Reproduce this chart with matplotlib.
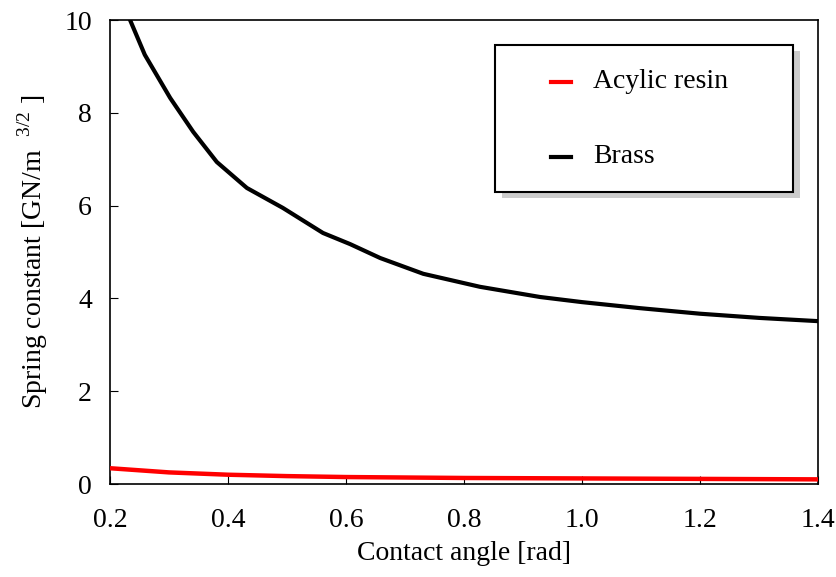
import matplotlib
matplotlib.use("Agg")
import matplotlib.pyplot as plt
from matplotlib.patches import Rectangle

plt.rcParams["font.family"] = ["Liberation Serif", "DejaVu Serif"]
plt.rcParams["mathtext.fontset"] = "custom"
plt.rcParams["mathtext.rm"] = "Liberation Serif"

# Brass curve
brass_x = [0.234, 0.259, 0.302, 0.341, 0.381, 0.432, 0.493, 0.561, 0.607, 0.658, 0.731, 0.827,
           0.929, 1.0, 1.098, 1.2, 1.3, 1.4]
brass_y = [10.0, 9.25, 8.32, 7.59, 6.94, 6.38, 5.95, 5.41, 5.17, 4.87, 4.53, 4.25,
           4.03, 3.92, 3.79, 3.67, 3.58, 3.51]
# Acrylic resin curve
resin_x = [0.2, 0.3, 0.4, 0.5, 0.6, 0.8, 1.0, 1.2, 1.4]
resin_y = [0.34, 0.25, 0.2, 0.17, 0.15, 0.13, 0.12, 0.11, 0.1]

xticks = [0.2, 0.4, 0.6, 0.8, 1.0, 1.2, 1.4]
yticks = [0, 2, 4, 6, 8, 10]

fig = plt.figure(figsize=(8.37, 5.77), dpi=100)
ax = fig.add_axes([110 / 837, 1 - 484 / 577, 708 / 837, 464 / 577])

ax.plot(resin_x, resin_y, color="#ff0000", lw=3.2, label="Acylic resin", zorder=3)
ax.plot(brass_x, brass_y, color="black", lw=3.0, label="Brass", zorder=3)

ax.set_xlim(0.2, 1.4)
ax.set_ylim(0, 10)
ax.set_xticks(xticks)
ax.set_xticklabels([f"{v:.1f}" for v in xticks])
ax.set_yticks(yticks)
ax.tick_params(direction="in", length=6, width=0.8, labelsize=20,
               top=False, right=False)
ax.tick_params(axis="x", pad=17)
ax.tick_params(axis="y", pad=13)
for s in ax.spines.values():
    s.set_linewidth(1.2)
ax.set_xlabel("Contact angle [rad]", fontsize=20, labelpad=6)
ax.set_ylabel(r"Spring constant [GN/m $^{\ 3/2}$ ]", fontsize=20, labelpad=10)

# legend box with drop shadow, drawn in figure pixels
def fx(px):
    return px / 837

def fy(py):
    return 1 - py / 577

fig.patches.append(Rectangle((fx(502), fy(198)), fx(793) - fx(495), fy(45) - fy(192),
                             transform=fig.transFigure, facecolor="#cccccc", edgecolor="none", zorder=4))
fig.patches.append(Rectangle((fx(495), fy(192)), fx(793) - fx(495), fy(45) - fy(192),
                             transform=fig.transFigure, facecolor="white", edgecolor="black", lw=1.5, zorder=5))
handles, labels = ax.get_legend_handles_labels()
for i, (h, lab) in enumerate(zip(handles, labels)):
    yy = fy(82 + i * 75)
    fig.add_artist(plt.Line2D([fx(551), fx(571)], [yy, yy], color=h.get_color(), lw=3,
                              transform=fig.transFigure, zorder=6))
    fig.text(fx(593), yy, lab, fontsize=20, va="center", ha="left", zorder=6)

fig.savefig("out.png", dpi=100, facecolor="white")
